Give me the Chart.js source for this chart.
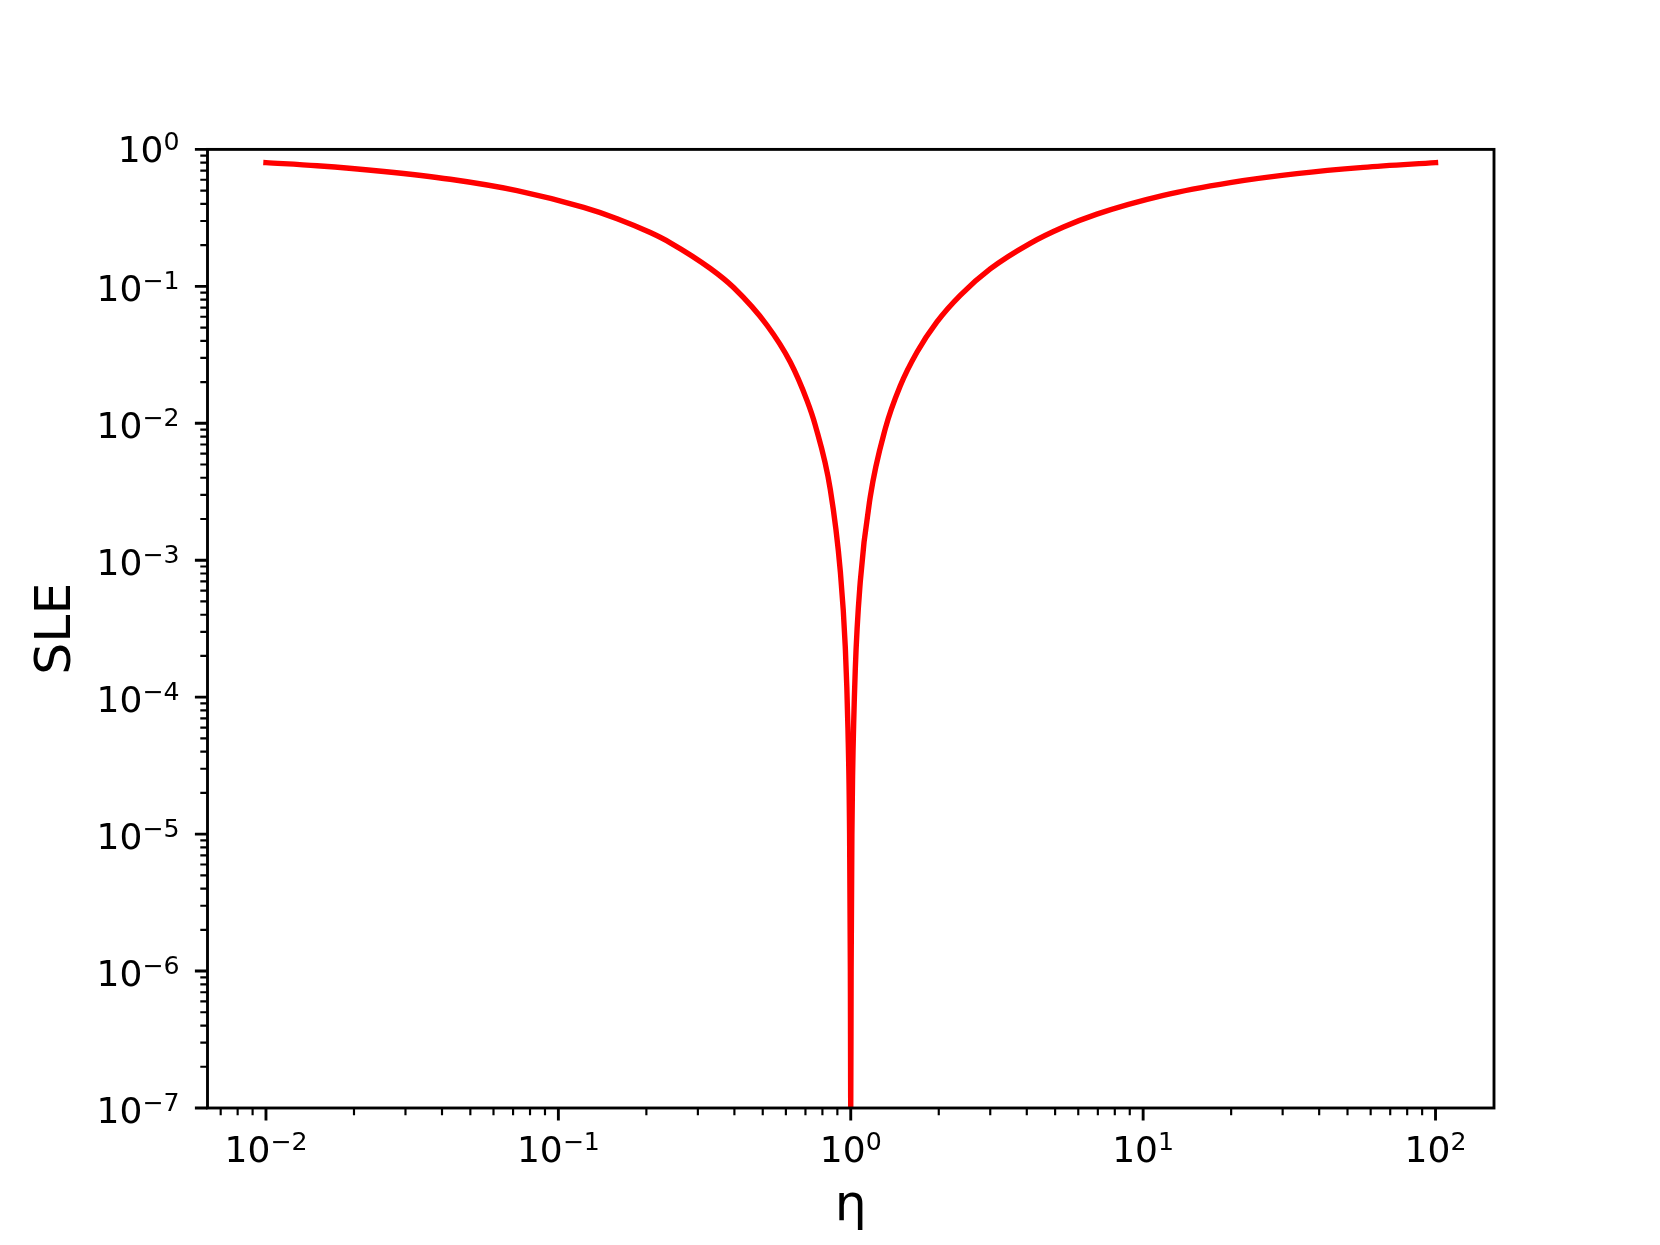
<!DOCTYPE html>
<html>
<head>
<meta charset="utf-8">
<title>SLE</title>
<script src="https://cdn.jsdelivr.net/npm/chart.js@4.4.1/dist/chart.umd.min.js"></script>
<style>
    html, body { margin: 0; padding: 0; background: #fff; }
    canvas { display: block; }
</style>
</head>
<body>
<canvas id="sleChart" width="1660" height="1245"></canvas>
<script>
// valores (eta, SLE)
const etaValues = [0.01, 0.01496, 0.0253, 0.0427, 0.0722, 0.122, 0.1588, 0.2063, 0.2415, 0.331,
    0.3975, 0.517, 0.621, 0.7083, 0.756, 0.851, 0.921, 0.9576, 0.978, 0.991, 0.997, 1,
    1.003, 1.009, 1.0144, 1.036, 1.078, 1.166, 1.312, 1.476, 1.684, 1.971, 2.368, 2.999,
    4.109, 5.34, 6.946, 11.73, 19.84, 33.54, 56.64, 100];
const sleValues = [0.80, 0.76, 0.69, 0.605, 0.50, 0.377, 0.312, 0.247, 0.208, 0.135,
    0.098, 0.052, 0.028, 0.0147, 0.0097, 0.0033, 0.00083, 2.35e-4, 6e-5, 1e-5, 1e-6, 1e-7,
    1e-6, 1e-5, 2.6e-5, 1.56e-4, 7e-4, 0.0029, 0.0091, 0.0187, 0.033, 0.055, 0.086, 0.134,
    0.206, 0.271, 0.337, 0.462, 0.572, 0.665, 0.739, 0.80];

// expoentes das marcas principais e subdivisoes das marcas menores
const xDecades = [-2, -1, 0, 1, 2];
const yDecades = [-7, -6, -5, -4, -3, -2, -1, 0];
const minorSubs = [2, 3, 4, 5, 6, 7, 8, 9];

const xLabel = 'η';
const yLabel = 'SLE';

const FONT = "'DejaVu Sans', sans-serif";

function drawPow(ctx, exp, px, py, align) {
    const base = '10';
    const sup = exp < 0 ? '\u2212' + (-exp) : String(exp);
    ctx.font = '36px ' + FONT;
    const w1 = ctx.measureText(base).width;
    ctx.font = '25.2px ' + FONT;
    const w2 = ctx.measureText(sup).width;
    const total = w1 + w2;
    let x0 = align === 'center' ? px - total / 2 : px - total;
    ctx.textAlign = 'left';
    ctx.textBaseline = 'alphabetic';
    ctx.font = '36px ' + FONT;
    ctx.fillText(base, x0, py);
    ctx.font = '25.2px ' + FONT;
    ctx.fillText(sup, x0 + w1, py - 12);
}

const axesPlugin = {
    id: 'axesPlugin',
    afterDraw(chart) {
        const { ctx, chartArea: a, scales: { x, y } } = chart;
        ctx.save();
        ctx.strokeStyle = '#000';
        ctx.fillStyle = '#000';

        // marcas menores
        ctx.lineWidth = 2.16;
        ctx.beginPath();
        for (let d = -8; d <= 2; d++) {
            minorSubs.forEach(s => {
                const v = s * Math.pow(10, d);
                if (v > x.min && v < x.max) {
                    const px = x.getPixelForValue(v);
                    ctx.moveTo(px, a.bottom);
                    ctx.lineTo(px, a.bottom + 7.2);
                }
                if (v > y.min && v < y.max) {
                    const py = y.getPixelForValue(v);
                    ctx.moveTo(a.left, py);
                    ctx.lineTo(a.left - 7.2, py);
                }
            });
        }
        ctx.stroke();

        // marcas principais + rotulos
        ctx.lineWidth = 2.88;
        ctx.beginPath();
        xDecades.forEach(d => {
            const px = x.getPixelForValue(Math.pow(10, d));
            ctx.moveTo(px, a.bottom);
            ctx.lineTo(px, a.bottom + 12.6);
        });
        yDecades.forEach(d => {
            const py = y.getPixelForValue(Math.pow(10, d));
            ctx.moveTo(a.left, py);
            ctx.lineTo(a.left - 12.6, py);
        });
        ctx.stroke();

        xDecades.forEach(d => {
            drawPow(ctx, d, x.getPixelForValue(Math.pow(10, d)), a.bottom + 54, 'center');
        });
        yDecades.forEach(d => {
            const py = y.getPixelForValue(Math.pow(10, d));
            drawPow(ctx, d, a.left - 28, py + (d < 0 ? 15 : 13), 'right');
        });

        // moldura
        ctx.lineWidth = 2.88;
        ctx.strokeRect(a.left, a.top, a.right - a.left, a.bottom - a.top);

        // titulos dos eixos
        ctx.font = '50.4px ' + FONT;
        ctx.textAlign = 'center';
        ctx.textBaseline = 'alphabetic';
        ctx.fillText(xLabel, (a.left + a.right) / 2, 1220);
        ctx.save();
        ctx.translate(70, (a.top + a.bottom) / 2);
        ctx.rotate(-Math.PI / 2);
        ctx.fillText(yLabel, 0, 0);
        ctx.restore();

        ctx.restore();
    }
};

const points = etaValues.map((e, i) => ({ x: e, y: sleValues[i] }));

new Chart(document.getElementById('sleChart'), {
    type: 'line',
    data: {
        datasets: [{
            label: 'SLE',
            data: points,
            borderColor: '#ff0000',
            borderWidth: 5.4,
            borderCapStyle: 'square',
            pointRadius: 0,
            cubicInterpolationMode: 'monotone',
            fill: false,
            clip: 0
        }]
    },
    options: {
        responsive: false,
        animation: false,
        devicePixelRatio: 1,
        layout: {
            padding: { left: 207.5, top: 149.4, right: 166, bottom: 137 }
        },
        plugins: {
            legend: { display: false },
            tooltip: { enabled: false }
        },
        scales: {
            x: {
                type: 'logarithmic',
                display: false,
                min: Math.pow(10, -2.2),
                max: Math.pow(10, 2.2)
            },
            y: {
                type: 'logarithmic',
                display: false,
                min: 1e-7,
                max: 1
            }
        }
    },
    plugins: [axesPlugin]
});
</script>
</body>
</html>
